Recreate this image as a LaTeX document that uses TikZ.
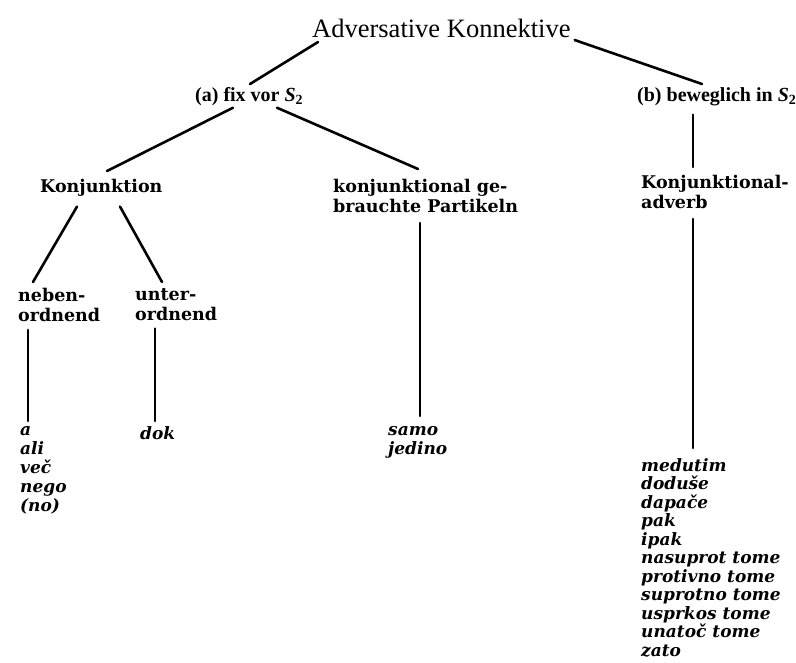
\documentclass[tikz,border=0pt]{standalone}
\usepackage{fontspec}
\setmainfont{Liberation Serif}
\newfontfamily\lblfont{DejaVu Serif}
\usetikzlibrary{calc}
\tikzset{
  conn/.style={line width=2.6pt, line cap=round},
  titlestyle/.style={inner sep=0pt, anchor=north west, font=\fontsize{26.5}{30}\selectfont},
  branchstyle/.style={inner sep=0pt, anchor=north west, font=\bfseries\fontsize{20}{24}\selectfont},
  lbl/.style={inner sep=0pt, anchor=north west, align=left, font=\lblfont\bfseries\fontsize{17.5}{20}\selectfont},
  ex/.style={inner sep=0pt, anchor=north west, align=left, font=\lblfont\bfseries\itshape\fontsize{17}{19}\selectfont},
  exlong/.style={ex, font=\lblfont\bfseries\itshape\fontsize{17}{18.5}\selectfont},
}
\begin{document}
\begin{tikzpicture}[x=1pt,y=-1pt]
\useasboundingbox (0,0) rectangle (796,663);
\node[titlestyle] (title) at (312,19) {Adversative Konnektive};
\node[branchstyle] (a) at (195,87) {(a) fix vor {\itshape S}\textsubscript{2}};
\node[branchstyle] (b) at (637,87) {(b) beweglich in {\itshape S}\textsubscript{2}};
\node[lbl] (konj) at (40,179) {Konjunktion};
\node[lbl] (part) at (333,179) {konjunktional ge-\\brauchte Partikeln};
\node[lbl] (ka) at (641,175) {Konjunktional-\\adverb};
\node[lbl] (neben) at (18,288) {neben-\\ordnend};
\node[lbl] (unter) at (135,288) {unter-\\ordnend};
\node[ex] (listA) at (20,426) {a\\ali\\več\\nego\\(no)};
\node[ex] (dok) at (140,426) {dok};
\node[ex] (samo) at (388,426) {samo\\jedino};
\node[exlong] (listB) at (641,458) {medutim\\doduše\\dapače\\pak\\ipak\\nasuprot tome\\protivno tome\\suprotno tome\\usprkos tome\\unatoč tome\\zato};
% connectors
\draw[conn] ([xshift=6pt,yshift=-4pt]title.south west) -- ([xshift=55pt,yshift=3pt]a.north west);
\draw[conn] ([xshift=4pt,yshift=-2pt]title.south east) -- ([xshift=65pt,yshift=3pt]b.north west);
\draw[conn] ([xshift=56pt,yshift=-9pt]b.south west) -- ([xshift=52pt,yshift=8pt]ka.north west);
\draw[conn] ([xshift=38pt,yshift=-2pt]a.south west) -- ([xshift=67pt,yshift=8pt]konj.north west);
\draw[conn] ([xshift=82pt,yshift=-2pt]a.south west) -- ([xshift=85pt,yshift=10pt]part.north west);
\draw[conn] ([xshift=37pt,yshift=-10pt]konj.south west) -- ([xshift=15pt,yshift=6pt]neben.north west);
\draw[conn] ([xshift=80pt,yshift=-10pt]konj.south west) -- ([xshift=27pt,yshift=6pt]unter.north west);
\draw[conn] ([xshift=10pt,yshift=-8pt]neben.south west) -- ([xshift=8pt,yshift=5pt]listA.north west);
\draw[conn] ([xshift=20pt,yshift=-8pt]unter.south west) -- ([xshift=15pt,yshift=5pt]dok.north west);
\draw[conn] ([xshift=87pt,yshift=-10pt]part.south west) -- ([xshift=32pt,yshift=10pt]samo.north west);
\draw[conn] ([xshift=52pt,yshift=-10pt]ka.south west) -- ([xshift=52pt,yshift=10pt]listB.north west);
\end{tikzpicture}
\end{document}
